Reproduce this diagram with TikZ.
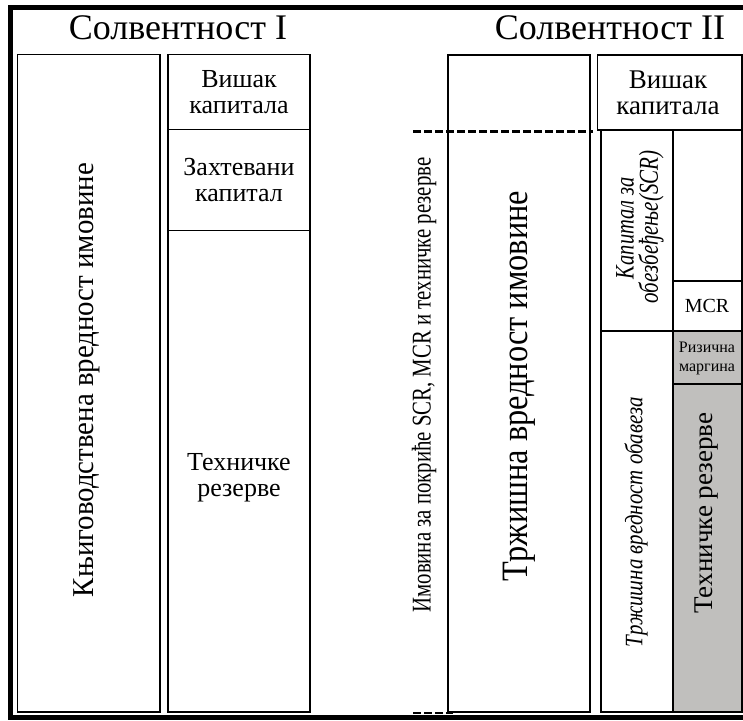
\documentclass[tikz,border=0pt]{standalone}
\usepackage{fontspec}
\setmainfont{Liberation Serif}
\usepackage{graphicx}
\definecolor{rezgray}{RGB}{192,191,189}
\tikzset{
  box/.style={draw=black, line width=1.7pt},
  gbox/.style={box, fill=rezgray},
  lbl/.style={align=center, inner sep=0pt, font=\fontsize{26}{26}\selectfont},
  vlbl/.style={rotate=90, inner sep=0pt},
  ttl/.style={inner sep=0pt, font=\fontsize{36}{36}\selectfont},
}
\newcommand{\vstretch}[3]{\scalebox{1}[#2]{\resizebox{#1}{!}{#3}}}

\begin{document}
\begin{tikzpicture}[x=1pt,y=-1pt]
\useasboundingbox (0,0) rectangle (743,720);
% outer frame
\draw[line width=5pt] (743,7.5) -- (10.5,7.5) -- (10.5,717.5) -- (743,717.5);

% Solvency I
\node[ttl] (solv1) at (178,28) {Солвентност I};
\draw[box] (17.5,54.5) rectangle (160,712);
\draw[box] (168,54.5) rectangle (310,129.5);
\draw[box] (168,129.5) rectangle (310,230.5);
\draw[box] (168,230.5) rectangle (310,712);
\node[vlbl] (knjig) at (87,380) {\vstretch{434pt}{1.05}{Књиговодствена вредност имовине}};
\node[lbl] (visak1) at (239,92) {Вишак\\капитала};
\node[lbl] (zahtev) at (239,180) {Захтевани\\капитал};
\node[lbl] (tehn1) at (239,478) {Техничке\\резерве};

% Solvency II
\node[ttl] (solv2) at (610,28) {Солвентност II};
\draw[box] (447.7,55) rectangle (590,712);
\node[vlbl] (imovina) at (424,385) {\vstretch{455pt}{1.3}{Имовина за покриће SCR, MCR и техничке резерве}};
\node[vlbl] (trzimov) at (519,386) {\vstretch{390pt}{1.15}{Тржишна вредност имовине}};
\draw[line width=3pt, dash pattern=on 8pt off 3pt] (413,131) -- (593,131);
\draw[line width=2.5pt, dash pattern=on 8pt off 3pt] (413,713) -- (453,713);

\draw[box] (597.5,55) rectangle (742,130);
\draw[box] (601,130) rectangle (673,331);
\draw[box] (673,130) rectangle (742,281);
\draw[box] (673,281) rectangle (742,331);
\draw[box] (601,331) rectangle (673,712);
\draw[gbox] (673,331) rectangle (742,384);
\draw[gbox] (673,384) rectangle (742,712);
\node[lbl, font=\fontsize{27}{26}\selectfont] (visak2) at (668,93) {Вишак\\капитала};
\node[vlbl] (scrtop) at (625,228) {\vstretch{102pt}{1.3}{\itshape Капитал за}};
\node[vlbl] (scr) at (651,227) {\vstretch{153pt}{1.3}{\itshape обезбеђење(SCR)}};
\node[inner sep=0pt, font=\fontsize{20}{20}\selectfont] (mcr) at (707,306) {MCR};
\node[align=center, inner sep=0pt, font=\fontsize{16}{19}\selectfont] (rizik) at (707,358) {Ризична\\маргина};
\node[vlbl] (tehn2) at (707,513) {\vstretch{201pt}{1}{Техничке резерве}};
\node[vlbl] (trzobav) at (636,522) {\vstretch{250pt}{1.2}{\itshape Тржишна вредност обавеза}};
\end{tikzpicture}
\end{document}
